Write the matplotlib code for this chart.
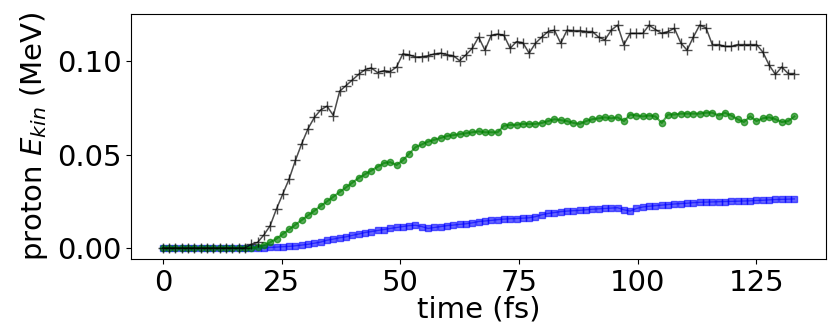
import numpy as np
import matplotlib
matplotlib.use("Agg")
import matplotlib.pyplot as plt

# uniform sampling, 101 steps over 0-133 fs
time_fs = np.round(np.arange(101) * 1.33, 2)

ekin_black = [
    0.0, 0.0, 0.0, 0.0, 0.0, 0.0, 0.0, 0.0, 0.0, 0.0,
    0.0, 0.0, 0.0, 0.0, 0.002, 0.003, 0.007, 0.012, 0.021, 0.029,
    0.037, 0.047, 0.056, 0.064, 0.070, 0.074, 0.076, 0.071, 0.084, 0.087,
    0.090, 0.093, 0.0955, 0.0965, 0.094, 0.095, 0.0945, 0.097, 0.104, 0.1035,
    0.1023, 0.1025, 0.103, 0.104, 0.1044, 0.1035, 0.103, 0.1004, 0.1035, 0.107,
    0.113, 0.106, 0.114, 0.1146, 0.114, 0.107, 0.1106, 0.110, 0.1044, 0.1097,
    0.113, 0.116, 0.1167, 0.1097, 0.1167, 0.1165, 0.1165, 0.116, 0.116, 0.113,
    0.1115, 0.1167, 0.1194, 0.109, 0.115, 0.115, 0.115, 0.1194, 0.117, 0.115,
    0.116, 0.1177, 0.110, 0.106, 0.113, 0.1194, 0.118, 0.109, 0.109, 0.108,
    0.108, 0.109, 0.109, 0.109, 0.109, 0.105, 0.098, 0.093, 0.097, 0.0935,
    0.0935,
]

ekin_green = [
    0.0, 0.0, 0.0, 0.0, 0.0, 0.0, 0.0, 0.0, 0.0, 0.0,
    0.0, 0.0, 0.0, 0.0, 0.0, 0.0005, 0.0015, 0.003, 0.005, 0.0075,
    0.010, 0.0125, 0.015, 0.0175, 0.020, 0.0225, 0.025, 0.0275, 0.030, 0.0325,
    0.035, 0.0375, 0.0395, 0.0415, 0.0435, 0.0455, 0.046, 0.0445, 0.047, 0.0505,
    0.054, 0.0555, 0.057, 0.058, 0.059, 0.060, 0.0605, 0.061, 0.0615, 0.062,
    0.0625, 0.062, 0.062, 0.062, 0.0655, 0.066, 0.066, 0.0665, 0.0665, 0.0665,
    0.067, 0.068, 0.069, 0.0685, 0.068, 0.067, 0.0665, 0.068, 0.069, 0.0695,
    0.070, 0.0695, 0.070, 0.068, 0.0715, 0.071, 0.0705, 0.071, 0.0705, 0.067,
    0.0715, 0.0715, 0.072, 0.072, 0.072, 0.072, 0.0725, 0.0725, 0.071, 0.0725,
    0.071, 0.069, 0.0675, 0.0705, 0.068, 0.0695, 0.070, 0.069, 0.0675, 0.068,
    0.0705,
]

ekin_blue = [
    0.0, 0.0, 0.0, 0.0, 0.0, 0.0, 0.0, 0.0, 0.0, 0.0,
    0.0, 0.0, 0.0, 0.0, 0.0, 0.0, 0.0, 0.0003, 0.0005, 0.0007,
    0.0009, 0.0012, 0.0016, 0.002, 0.0026, 0.0032, 0.0042, 0.0048, 0.0055, 0.006,
    0.0068, 0.0075, 0.0083, 0.0088, 0.0094, 0.0099, 0.0105, 0.011, 0.0115, 0.012,
    0.0122, 0.0115, 0.0105, 0.011, 0.0115, 0.012, 0.0123, 0.0127, 0.013, 0.0135,
    0.0142, 0.0145, 0.0148, 0.0152, 0.0155, 0.0157, 0.0158, 0.016, 0.0162, 0.0168,
    0.0178, 0.0185, 0.019, 0.0195, 0.0198, 0.020, 0.0202, 0.0205, 0.0208, 0.021,
    0.0212, 0.0214, 0.0216, 0.0205, 0.0198, 0.0212, 0.022, 0.0224, 0.0227, 0.023,
    0.0233, 0.0236, 0.0238, 0.024, 0.0243, 0.0245, 0.0246, 0.0247, 0.0248, 0.0249,
    0.025, 0.0251, 0.0252, 0.0253, 0.0255, 0.0256, 0.0258, 0.026, 0.0261, 0.0262,
    0.0263,
]

xticks = [0, 25, 50, 75, 100, 125]
yticks = [0.00, 0.05, 0.10]

plt.rcParams["font.size"] = 21

fig = plt.figure(figsize=(8.36, 3.26), dpi=100)
ax = fig.add_axes([0.157, 0.205, 0.831, 0.752])

ax.plot(time_fs, ekin_blue, color="blue", marker="s", markersize=5,
        linewidth=1, alpha=0.6)
ax.plot(time_fs, ekin_green, color="green", marker="o", markersize=4.5,
        linewidth=1.5, alpha=0.65)
ax.plot(time_fs, ekin_black, color="black", marker="+", markersize=6.5,
        linewidth=1.1, alpha=0.7)

ax.set_xticks(xticks)
ax.set_yticks(yticks)
ax.set_xlabel("time (fs)", labelpad=-1)
ax.set_ylabel("proton $E_{kin}$ (MeV)", labelpad=5)

fig.savefig("out.png", dpi=100)
print("[plot] wrote out.png")
